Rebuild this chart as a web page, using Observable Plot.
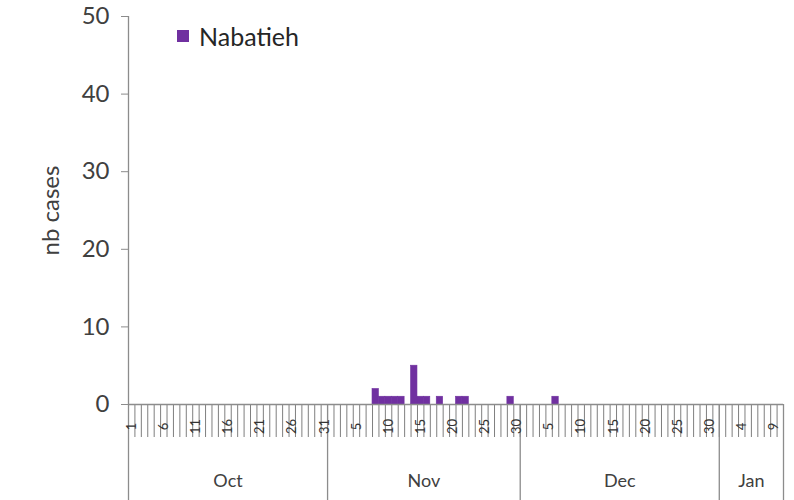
<!DOCTYPE html>
<html><head><meta charset="utf-8">
<script src="https://cdn.jsdelivr.net/npm/d3@7"></script>
<script src="https://cdn.jsdelivr.net/npm/@observablehq/plot@0.6"></script>
<style>
body{margin:0;background:#fff;font-family:Lato,sans-serif;}
#wrap{position:relative;width:794px;height:500px;}
#legend{position:absolute;left:177px;top:21px;display:flex;align-items:center;font-size:25px;color:#262626;z-index:2;}
#legend .sw{width:12px;height:12px;background:#7030a0;margin-right:10px;display:inline-block;}
</style></head><body>
<div id="wrap"><div id="legend"><span class="sw"></span><span id="legtext"></span></div></div>
<script>
const seriesName = "Nabatieh";
const caseDates = ["2022-11-08","2022-11-09","2022-11-10","2022-11-11","2022-11-12","2022-11-14","2022-11-15","2022-11-16","2022-11-18","2022-11-21","2022-11-22","2022-11-29","2022-12-06"];
const caseCounts = [2,1,1,1,1,5,1,1,1,1,1,1,1];
const yTicks = [0,10,20,30,40,50];
const monthNames = ["Oct","Nov","Dec","Jan"];
const monthStarts = ["2022-10-01","2022-11-01","2022-12-01","2023-01-01"];
const axisStart = "2022-10-01";
const axisEnd = "2023-01-11";

document.getElementById("legtext").textContent = seriesName;
const P = s => new Date(s + "T00:00:00Z");
const start = P(axisStart), end = P(axisEnd);
const bars = caseDates.map((d,i) => ({d: P(d), n: caseCounts[i]}));
const days = d3.utcDay.range(start, end);
const boundaries = d3.utcDay.range(start, d3.utcDay.offset(end,1));
const labelDays = days.filter((d,i) => i % 5 === 0);
const mStarts = monthStarts.map(P);
const months = monthNames.map((m,i) => ({m, a: mStarts[i], b: i+1 < mStarts.length ? mStarts[i+1] : end}));
const monthEdges = [...mStarts, end];

// positions below the axis, in y units (scale: 50 units over 388px)
const u = 388/50;
const tickBandY = -33/u, tickLabY = -22/u, monthLabY = -77/u, bottomY = -96/u;

const chart = Plot.plot({
  width: 794, height: 500,
  marginLeft: 128, marginRight: 11, marginTop: 16, marginBottom: 96,
  style: {fontFamily: "Lato, sans-serif", color: "#404040", background: "transparent"},
  x: {type: "utc", domain: [start, end], axis: null},
  y: {domain: [0, 50]},
  marks: [
    Plot.ruleX(boundaries, {y1: 0, y2: tickBandY, stroke: "#7f7f7f", strokeWidth: 1}),
    Plot.ruleX(monthEdges, {y1: 0, y2: bottomY, stroke: "#8c8c8c", strokeWidth: 1.3}),
    Plot.ruleX([start], {stroke: "#8c8c8c", strokeWidth: 1.3}),
    Plot.rectY(bars, {x1: "d", x2: b => d3.utcDay.offset(b.d, 1), y: "n", fill: "#7030a0", stroke: "#7030a0", strokeWidth: 0.6, inset: 0}),
    Plot.ruleY([0], {stroke: "#8c8c8c", strokeWidth: 1.3}),
    Plot.text(labelDays, {x: d => d3.utcHour.offset(d, 12), y: tickLabY, text: d => String(d.getUTCDate()), rotate: -90, fontSize: 13, fill: "#333"}),
    Plot.text(months, {x: d => new Date((+d.a + +d.b)/2), y: monthLabY, text: "m", fontSize: 18, fill: "#404040"}),
    Plot.axisY({ticks: yTicks, tickSize: 7, tickPadding: 12, fontSize: 24, stroke: "#8c8c8c", label: "nb cases", labelAnchor: "center", labelArrow: "none", labelOffset: 87})
  ]
});
document.getElementById("wrap").appendChild(chart);
</script>
</body></html>
